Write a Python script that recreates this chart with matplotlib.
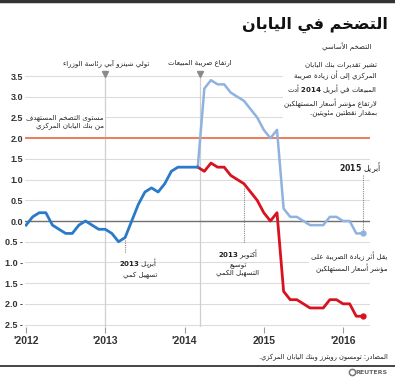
import re
import numpy as np
import matplotlib
matplotlib.use("Agg")
import matplotlib.pyplot as plt
from matplotlib.lines import Line2D

plt.rcParams["font.family"] = "DejaVu Sans"
plt.rcParams["mathtext.fontset"] = "dejavusans"

# === data: core CPI, monthly, Jan 2012 - Apr 2016 ===
start_2012 = [-0.1, 0.1, 0.2, 0.2, -0.1, -0.2, -0.3, -0.3, -0.1, 0.0, -0.1, -0.2,
              -0.2, -0.3, -0.5, -0.4, 0.0, 0.4, 0.7, 0.8, 0.7, 0.9, 1.2, 1.3,
              1.3, 1.3, 1.3]                       # Jan 2012 .. Mar 2014
with_tax = [1.3, 3.2, 3.4, 3.3, 3.3, 3.1, 3.0, 2.9, 2.7, 2.5,
            2.2, 2.0, 2.2, 0.3, 0.1, 0.1, 0.0, -0.1, -0.1, -0.1, 0.1, 0.1,
            0.0, 0.0, -0.3, -0.3]                  # Mar 2014 .. Apr 2016
ex_tax = [1.3, 1.2, 1.4, 1.3, 1.3, 1.1, 1.0, 0.9, 0.7, 0.5,
          0.2, 0.0, 0.2, -1.7, -1.9, -1.9, -2.0, -2.1, -2.1, -2.1, -1.9, -1.9,
          -2.0, -2.0, -2.3, -2.3]                  # Mar 2014 .. Apr 2016
target = 2.0
years = [2012, 2013, 2014, 2015, 2016]
year_labels = ["'2012", "'2013", "'2014", "2015", "'2016"]
y_ticks = [3.5, 3.0, 2.5, 2.0, 1.5, 1.0, 0.5, 0.0, -0.5, -1.0, -1.5, -2.0, -2.5]
y_labels = ["3.5", "3.0", "2.5", "2.0", "1.5", "1.0", "0.5", "0.0",
            "0.5 -", "1.0 -", "1.5 -", "2.0 -", "2.5 -"]
events = [2013.0, 2014.2]          # Abe takes office, sales tax hike

t1 = 2012 + np.arange(len(start_2012)) / 12
t2 = 2014 + 2 / 12 + np.arange(len(with_tax)) / 12

# === simple Arabic shaping (presentation forms) + visual order ===
AR_LETTERS = "ءآأؤإئابةتثجحخدذرزسشصضطظعغفقكلمنهوىي"
AR_NFORMS = [1, 2, 2, 2, 2, 4, 2, 4, 2, 4, 4, 4, 4, 4, 2, 2, 2, 2, 4, 4,
             4, 4, 4, 4, 4, 4, 4, 4, 4, 4, 4, 4, 4, 2, 2, 4]
FORMS = {}
code = 0xFE80
for ch, n in zip(AR_LETTERS, AR_NFORMS):
    FORMS[ch] = [chr(code + k) for k in range(n)]
    code += n
LAM_ALEF = {"آ": 0xFEF5, "أ": 0xFEF7, "إ": 0xFEF9, "ا": 0xFEFB}


def dual(c):
    return c in FORMS and len(FORMS[c]) == 4


def shape(line):
    out, i, n = [], 0, len(line)
    while i < n:
        c = line[i]
        if c not in FORMS:
            out.append(c)
            i += 1
            continue
        link_prev = i > 0 and dual(line[i - 1])
        if c == "ل" and i + 1 < n and line[i + 1] in LAM_ALEF:
            out.append(chr(LAM_ALEF[line[i + 1]] + (1 if link_prev else 0)))
            i += 2
            continue
        link_next = dual(c) and i + 1 < n and line[i + 1] in FORMS
        f = FORMS[c]
        if link_prev and link_next:
            g = f[3]
        elif link_prev:
            g = f[1] if len(f) > 1 else f[0]
        elif link_next:
            g = f[2]
        else:
            g = f[0]
        out.append(g)
        i += 1
    return "".join(out)


def ar(text, bold_num=False):
    lines = []
    for line in text.split("\n"):
        s = shape(line)[::-1]
        if bold_num:
            s = re.sub(r"\d+", lambda m: r"$\mathbf{" + m.group()[::-1] + "}$", s)
        else:
            s = re.sub(r"\d+", lambda m: m.group()[::-1], s)
        lines.append(s)
    return "\n".join(lines)


# === figure ===
W, H = 395, 378
fig = plt.figure(figsize=(W / 100, H / 100), dpi=100)
ax = fig.add_axes([25 / W, 1 - 326.6 / H, 345 / W, 252.6 / H])
ax.set_xlim(2011.987, 2016.34)
ax.set_ylim(-2.55, 3.55)
for s in ax.spines.values():
    s.set_visible(False)

for v in y_ticks:
    ax.axhline(v, color="#dcdcdc", lw=0.8, zorder=0)
ax.axhline(0, color="#707070", lw=1.0, zorder=1)
ax.axhline(target, color="#f07c57", lw=1.4, zorder=1)
for e in events:
    ax.axvline(e, color="#cfcfcf", lw=0.9, zorder=0)
    ax.plot(e, 3.55, marker="v", color="#8a8a8a", ms=5, clip_on=False, zorder=3)

ax.plot(t2, with_tax, color="#8fb2e0", lw=1.8, zorder=3)
ax.plot(t2, ex_tax, color="#d8121f", lw=2.0, zorder=4)
ax.plot(t1, start_2012, color="#2a7ac9", lw=2.0, zorder=5)
ax.plot(t2[-1], with_tax[-1], "o", color="#8fb2e0", ms=3.5, zorder=5)
ax.plot(t2[-1], ex_tax[-1], "o", color="#d8121f", ms=3.5, zorder=5)

# dotted markers
dot = dict(color="#8a8a8a", lw=0.8, ls=(0, (1, 1)), zorder=2)
ax.plot([2013.25, 2013.25], [-0.45, -0.78], **dot)
ax.plot([2014.75, 2014.75], [0.8, -0.53], **dot)
ax.plot([2016.25, 2016.25], [1.1, -0.3], **dot)

ax.set_yticks(y_ticks)
ax.set_yticklabels(y_labels, fontfamily="Liberation Sans", fontweight="bold",
                   fontsize=6.5, color="#333333")
ax.tick_params(axis="y", length=0, pad=1.5)
ax.set_xticks(years)
ax.set_xticklabels(year_labels, fontfamily="Liberation Sans", fontweight="bold",
                   fontsize=7.5, color="#333333")
ax.tick_params(axis="x", length=4, width=0.8, color="#9a9a9a", pad=3)


def ftxt(x, y, s, **kw):
    return fig.text(x / W, 1 - y / H, s, **kw)


fig.add_artist(Line2D([0, 1], [1 - 1 / H] * 2, color="#333333", lw=2.5))
fig.add_artist(Line2D([0, 1], [1 - 366 / H] * 2, color="#444444", lw=1.4))

fs = 5.0
ftxt(388, 25, ar("التضخم في اليابان"), ha="right", va="center", fontsize=11.5,
     fontweight="bold", color="#111111")
ftxt(371, 47, ar("التضخم الأساسي"), ha="right", va="center", fontsize=5.0,
     color="#222222")
ftxt(106, 63, ar("تولي شينزو آبي رئاسة الوزراء"), ha="center", va="center",
     fontsize=fs, color="#222222")
ftxt(200, 63, ar("ارتفاع ضريبة المبيعات"), ha="center", va="center",
     fontsize=fs, color="#222222")
ftxt(377, 61, ar("تشير تقديرات بنك اليابان\nالمركزي إلى أن زيادة ضريبة\n"
                 "المبيعات في أبريل 2014 أدت\nلارتفاع مؤشر أسعار المستهلكين\n"
                 "بمقدار نقطتين مئويتين.", bold_num=True),
     ha="right", va="top", fontsize=fs, color="#222222", linespacing=1.3,
     bbox=dict(fc="white", ec="none", pad=1))
ftxt(104, 122, ar("مستوى التضخم المستهدف\nمن بنك اليابان المركزي"),
     ha="right", va="center", fontsize=fs, color="#222222", linespacing=1.45,
     bbox=dict(fc="white", ec="none", pad=1))
ftxt(157, 268, ar("أبريل 2013\nتسهيل كمي", bold_num=True), ha="right",
     va="center", fontsize=fs, color="#222222", linespacing=1.35)
ftxt(238, 262, ar("أكتوبر 2013\nتوسيع\nالتسهيل الكمي", bold_num=True),
     ha="center", va="center", fontsize=fs, color="#222222", linespacing=1.15)
ftxt(381, 168, ar("أبريل 2015", bold_num=True), ha="right", va="center",
     fontsize=5.6, color="#222222")
ftxt(387, 262, ar("يقل أثر زيادة الضريبة على\nمؤشر أسعار المستهلكين"),
     ha="right", va="center", fontsize=fs, color="#222222", linespacing=1.35,
     bbox=dict(fc="white", ec="none", pad=1))
ftxt(388, 357, ar("المصادر: تومسون رويترز وبنك اليابان المركزي."), ha="right",
     va="center", fontsize=4.8, color="#222222")
ftxt(388, 372, "REUTERS", ha="right", va="center", fontsize=4.5,
     fontweight="bold", color="#666666")
fig.add_artist(Line2D([352 / W], [1 - 372 / H], marker="o", ms=4.5, mfc="none",
                      mec="#777777", mew=1.1))

fig.savefig("out.png", dpi=100)
